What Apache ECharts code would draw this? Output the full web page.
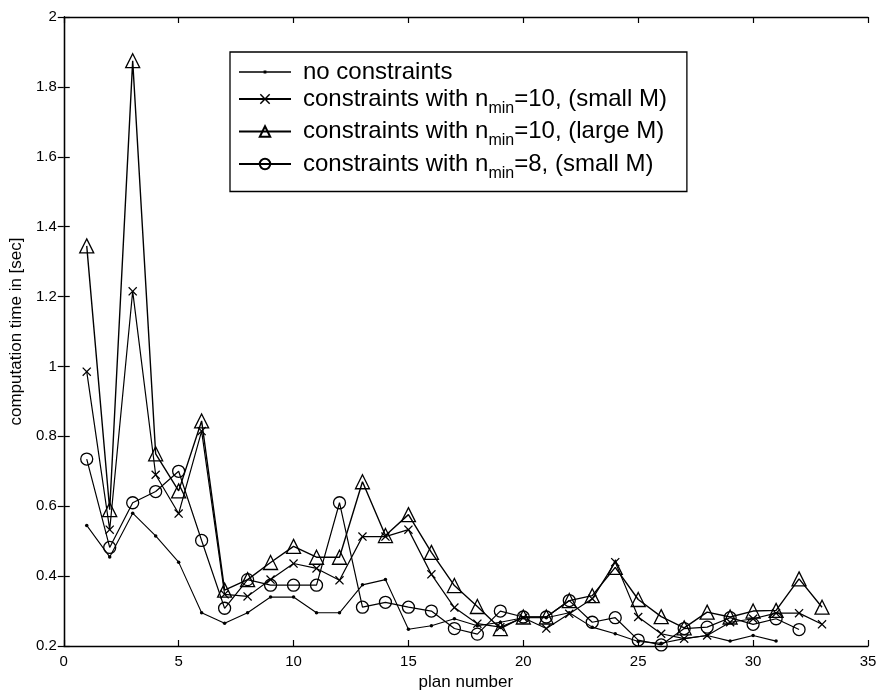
<!DOCTYPE html>
<html>
<head>
<meta charset="utf-8">
<script src="https://cdn.jsdelivr.net/npm/echarts@6/dist/echarts.min.js"></script>
<style>
  html, body { margin: 0; padding: 0; background: #fff; }
  #chart { width: 883px; height: 696px; }
</style>
</head>
<body>
<div id="chart"></div>
<script>
// values, plan numbers start at 1
const noConstraints = [0.545, 0.455, 0.58, 0.515, 0.44, 0.295, 0.265, 0.295, 0.34, 0.34, 0.295, 0.295, 0.375, 0.39, 0.248,
    0.258, 0.278, 0.258, 0.268, 0.281, 0.281, 0.295, 0.254, 0.235, 0.213, 0.208, 0.221, 0.23, 0.214, 0.23, 0.214];
const smallM10 = [0.985, 0.533, 1.215, 0.69, 0.579, 0.815, 0.348, 0.342, 0.39, 0.436, 0.422, 0.388, 0.513, 0.513, 0.533,
    0.405, 0.31, 0.264, 0.254, 0.281, 0.25, 0.292, 0.335, 0.44, 0.283, 0.235, 0.221, 0.23, 0.268, 0.278, 0.294, 0.294, 0.262];
const largeM10 = [1.345, 0.59, 1.875, 0.75, 0.644, 0.844, 0.36, 0.39, 0.439, 0.485, 0.454, 0.454, 0.67, 0.516, 0.576,
    0.468, 0.373, 0.313, 0.25, 0.283, 0.283, 0.33, 0.344, 0.425, 0.333, 0.284, 0.252, 0.297, 0.283, 0.3, 0.302, 0.392, 0.311];
const smallM8 = [0.735, 0.482, 0.61, 0.642, 0.70, 0.502, 0.308, 0.39, 0.374, 0.374, 0.374, 0.61, 0.311, 0.325, 0.311,
    0.3, 0.25, 0.234, 0.3, 0.283, 0.283, 0.33, 0.268, 0.281, 0.217, 0.203, 0.25, 0.254, 0.281, 0.262, 0.278, 0.247];

const seriesNames = [
    'no constraints',
    'constraints with n_min=10, (small M)',
    'constraints with n_min=10, (large M)',
    'constraints with n_min=8, (small M)',
];

const FONT = '"Liberation Sans", Arial, Helvetica, sans-serif';
const crossPath = 'path://M0,1L1,0L5,4L9,0L10,1L6,5L10,9L9,10L5,6L1,10L0,9L4,5Z';
// legend icon for the dotted series: thin line with a small dot in the middle
const dotIcon = 'path://M0,5.8L52,5.8L52,7.3L0,7.3ZM24.6,5L27.4,5L27.4,8.1L24.6,8.1Z';

const toPoints = (vals) => vals.map((v, i) => [i + 1, v]);

const makeSeries = (name, vals, symbol, size, lineWidth) => ({
    name,
    type: 'line',
    data: toPoints(vals),
    symbol,
    symbolSize: size,
    showAllSymbol: true,
    animation: false,
    lineStyle: { color: '#000', width: lineWidth },
    itemStyle: (symbol === 'circle' && size < 5) || symbol === crossPath
        ? { color: '#000' }
        : { color: 'rgba(0,0,0,0)', borderColor: '#000', borderWidth: 1.3 },
});

const legendFormatter = (name) => {
    const m = name.match(/^(.*n)_min(.*)$/);
    if (!m) return '{f|' + name + '}';
    return '{f|' + m[1] + '}{s|min}{a|' + m[2] + '}';
};

const axisCommon = {
    min: 0,
    axisLine: { lineStyle: { color: '#000', width: 1.3 } },
    axisTick: { inside: true, length: 6, lineStyle: { color: '#000', width: 1.2 } },
    splitLine: { show: false },
};

const textMain = { fontFamily: FONT, fontSize: 24, color: '#000' };

const option = {
    backgroundColor: '#fff',
    animation: false,
    grid: { left: 63, right: 15, top: 17, bottom: 47 },
    legend: {
        orient: 'vertical',
        left: 230,
        top: 52,
        padding: [8, 20, 10, 8],
        itemGap: 3,
        itemWidth: 52,
        itemHeight: 13,
        backgroundColor: '#fff',
        borderColor: '#000',
        borderWidth: 1.3,
        borderRadius: 0,
        data: [
            { name: seriesNames[0], icon: dotIcon },
            { name: seriesNames[1] },
            { name: seriesNames[2] },
            { name: seriesNames[3] },
        ],
        formatter: legendFormatter,
        textStyle: {
            rich: {
                f: { ...textMain, padding: [0, 0, 0, 7] },
                a: { ...textMain },
                s: { fontFamily: FONT, fontSize: 16, color: '#000', padding: [19, 0, 0, 0] },
            },
        },
    },
    xAxis: [
        {
            ...axisCommon,
            type: 'value',
            max: 35,
            interval: 5,
            name: 'plan number',
            nameLocation: 'middle',
            nameGap: 28,
            nameTextStyle: { fontFamily: FONT, fontSize: 17, color: '#000' },
            axisLabel: { fontFamily: FONT, fontSize: 15, color: '#000', margin: 8 },
        },
        {
            ...axisCommon,
            type: 'value',
            position: 'top',
            max: 35,
            interval: 5,
            axisLabel: { show: false },
        },
    ],
    yAxis: [
        {
            ...axisCommon,
            type: 'value',
            min: 0.2,
            max: 2,
            interval: 0.2,
            name: 'computation time in [sec]',
            nameLocation: 'middle',
            nameRotate: 90,
            nameGap: 34,
            nameTextStyle: { fontFamily: FONT, fontSize: 17, color: '#000' },
            axisLabel: { fontFamily: FONT, fontSize: 15, color: '#000', margin: 7 },
        },
        {
            ...axisCommon,
            type: 'value',
            position: 'right',
            min: 0.2,
            max: 2,
            interval: 0.2,
            axisLabel: { show: false },
        },
    ],
    series: [
        makeSeries(seriesNames[0], noConstraints, 'circle', 3.5, 1.1),
        makeSeries(seriesNames[1], smallM10, crossPath, 9, 1.2),
        makeSeries(seriesNames[2], largeM10, 'triangle', 14, 1.4),
        makeSeries(seriesNames[3], smallM8, 'circle', 12, 1.2),
    ],
};

const chart = echarts.init(document.getElementById('chart'), null, { renderer: 'canvas' });
chart.setOption(option);
</script>
</body>
</html>
